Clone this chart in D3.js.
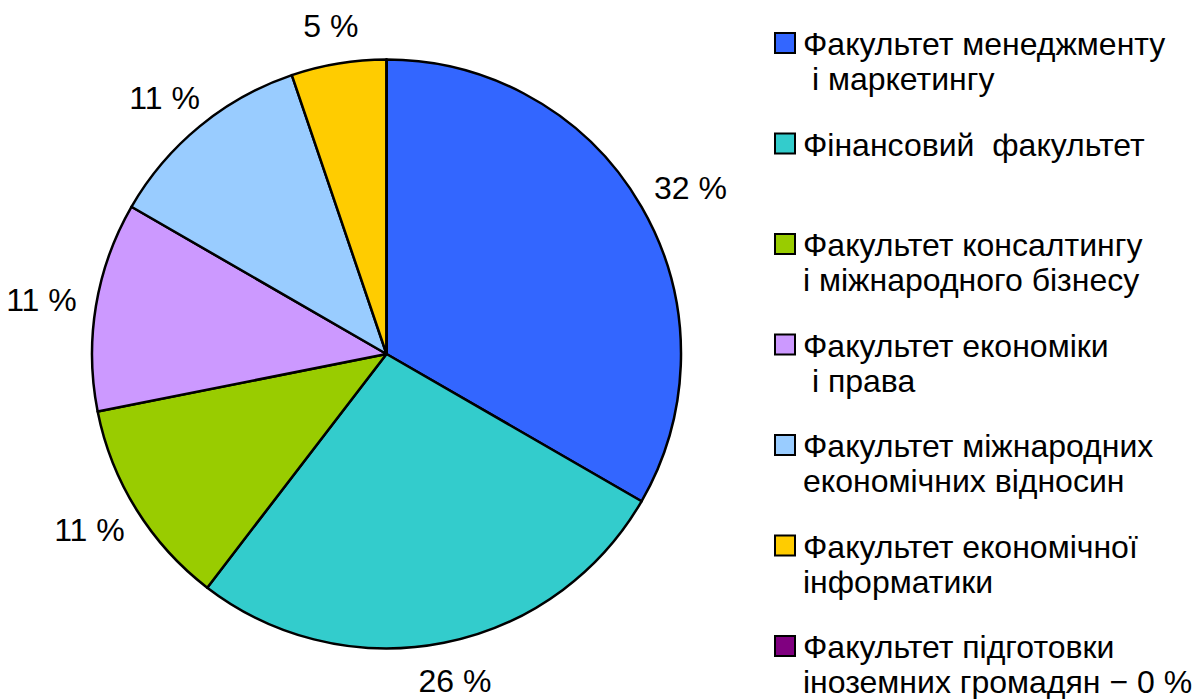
<!DOCTYPE html>
<html lang="uk">
<head>
<meta charset="UTF-8">
<title>Faculties pie chart</title>
<script src="https://d3js.org/d3.v7.min.js"></script>
<style>
  body { margin: 0; background: #fff; }
  svg text { font-family: Arial, "Liberation Sans", sans-serif; fill: #000; white-space: pre; }
</style>
</head>
<body>
<div id="chart"></div>
<script>
// Data
const faculties = [
  ["Факультет менеджменту", " і маркетингу"],
  ["Фінансовий  факультет"],
  ["Факультет консалтингу", "і міжнародного бізнесу"],
  ["Факультет економіки", " і права"],
  ["Факультет міжнародних", "економічних відносин"],
  ["Факультет економічної", "інформатики"],
  ["Факультет підготовки", "іноземних громадян − 0 %"]
];
const shares = [32, 26, 11, 11, 11, 5, 0];
const colors = ["#3366FF", "#33CCCC", "#99CC00", "#CC99FF", "#99CCFF", "#FFCC00", "#800080"];

const W = 1196, H = 699;
const cx = 386.5, cy = 354, r = 294.5;
const fontSize = 32;

const svg = d3.select("#chart").append("svg")
  .attr("width", W)
  .attr("height", H);

const pie = d3.pie().sort(null).value(d => d)(shares);
const arc = d3.arc().innerRadius(0).outerRadius(r);

const g = svg.append("g").attr("transform", `translate(${cx},${cy})`);

g.selectAll("path")
  .data(pie)
  .enter().append("path")
  .attr("d", arc)
  .attr("fill", (d, i) => colors[i])
  .attr("stroke", "#000")
  .attr("stroke-width", 2.5)
  .attr("stroke-linejoin", "round");

// percentage labels outside the slices
const gap = 20, halfH = 18;
g.selectAll("text.pct")
  .data(pie.filter(d => d.value > 0))
  .enter().append("text")
  .attr("class", "pct")
  .attr("font-size", fontSize)
  .attr("text-anchor", "middle")
  .text(d => d.value + " %")
  .each(function(d) {
    const a = (d.startAngle + d.endAngle) / 2;
    const hw = this.getComputedTextLength() / 2;
    const px = Math.sin(a) * (r + gap) + Math.sin(a) * hw;
    const py = -Math.cos(a) * (r + gap) - Math.cos(a) * halfH;
    d3.select(this).attr("x", px).attr("y", py + fontSize * 0.36);
  });

// legend
const legY = d3.scaleLinear().domain([0, 6]).range([55, 658]);
const legend = svg.append("g");
faculties.forEach((lines, i) => {
  const y = legY(i);
  legend.append("rect")
    .attr("x", 775).attr("y", y - 22)
    .attr("width", 20).attr("height", 20)
    .attr("fill", colors[i])
    .attr("stroke", "#000")
    .attr("stroke-width", 2);
  lines.forEach((t, j) => {
    legend.append("text")
      .attr("x", 803)
      .attr("y", y + j * 35)
      .attr("font-size", fontSize)
      .text(t);
  });
});
</script>
</body>
</html>
